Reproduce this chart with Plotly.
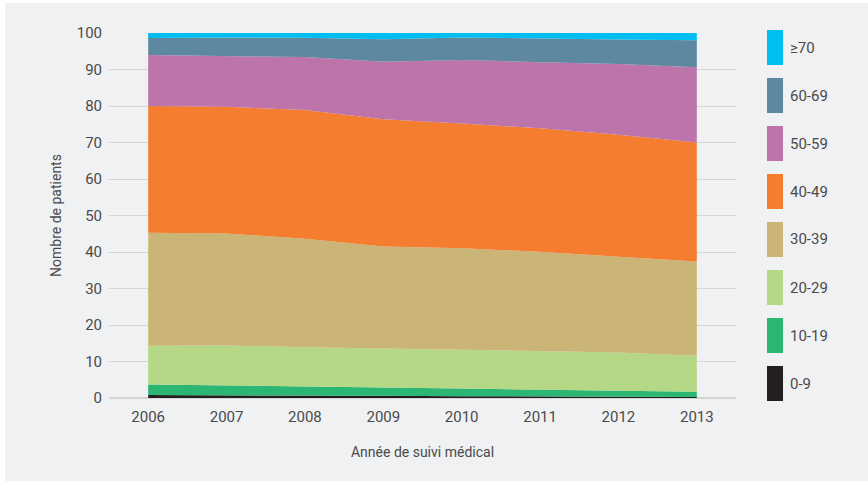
import plotly.graph_objects as go

years = ["2006", "2007", "2008", "2009", "2010", "2011", "2012", "2013"]
age_groups = ["0-9", "10-19", "20-29", "30-39", "40-49", "50-59", "60-69", "≥70"]
v_0_9 = [0.8, 0.8, 0.7, 0.6, 0.5, 0.4, 0.35, 0.3]
v_10_19 = [2.9, 2.7, 2.5, 2.3, 2.1, 1.9, 1.75, 1.4]
v_20_29 = [10.6, 10.9, 10.7, 10.6, 10.5, 10.4, 10.4, 9.9]
v_30_39 = [31.0, 30.7, 29.7, 28.0, 27.9, 27.4, 26.2, 25.8]
v_40_49 = [34.7, 34.7, 35.3, 34.9, 34.2, 33.8, 33.4, 32.6]
v_50_59 = [14.0, 13.9, 14.5, 15.7, 17.4, 18.1, 19.4, 20.6]
v_60_69 = [4.6, 5.1, 5.3, 6.2, 6.2, 6.4, 6.7, 7.4]
v_70p = [1.4, 1.2, 1.3, 1.7, 1.2, 1.6, 1.8, 2.0]
series = [v_0_9, v_10_19, v_20_29, v_30_39, v_40_49, v_50_59, v_60_69, v_70p]
colors = ["#231f20", "#2bb673", "#b4d886", "#cbb576", "#f47d30", "#bd74aa", "#5e87a0", "#00bef2"]
y_ticks = [0, 10, 20, 30, 40, 50, 60, 70, 80, 90, 100]

W, H = 868, 482
L, R, T, B = 109, 132, 33, 84
FONT = "Roboto, Open Sans, sans-serif"
TXT = "#4a4a4a"

fig = go.Figure()
for name, vals, col in zip(age_groups, series, colors):
    fig.add_trace(go.Scatter(
        x=years, y=vals, name=name, stackgroup="one", mode="lines",
        line=dict(width=0, color=col), fillcolor=col, showlegend=False,
        hoverinfo="x+y+name"))

pw, ph = W - L - R, H - T - B
def px(x):
    return (x - L) / pw
def py(y):
    return (H - B - y) / ph

shapes = [dict(type="rect", xref="paper", yref="paper", layer="below",
               x0=px(5), x1=px(W + 5), y0=py(481), y1=py(3),
               fillcolor="#f0f1f3", line=dict(width=0))]
annotations = []
for i, (name, col) in enumerate(zip(age_groups[::-1], colors[::-1])):
    top = 30 + 48 * i
    shapes.append(dict(type="rect", xref="paper", yref="paper",
                       x0=px(767), x1=px(783), y0=py(top + 35), y1=py(top),
                       fillcolor=col, line=dict(width=0)))
    annotations.append(dict(xref="paper", yref="paper", x=px(788), y=py(top + 17.5),
                            text=name, showarrow=False, xanchor="left", yanchor="middle",
                            font=dict(family=FONT, size=15, color=TXT)))

fig.update_layout(
    width=W, height=H,
    margin=dict(l=L, r=R, t=T, b=B),
    paper_bgcolor="white", plot_bgcolor="rgba(0,0,0,0)",
    font=dict(family=FONT, size=15, color=TXT),
    shapes=shapes, annotations=annotations,
    xaxis=dict(type="category", range=[-0.5, 7.5], showgrid=False, zeroline=False,
               showline=False, ticks="", tickfont=dict(size=15, color=TXT), ticklabelstandoff=8,
               title=dict(text="Année de suivi médical", font=dict(size=14, color=TXT), standoff=22)),
    yaxis=dict(range=[0, 100], tickvals=y_ticks, showgrid=True, gridcolor="#d4d5d7", gridwidth=1,
               zeroline=True, zerolinecolor="#d4d5d7", zerolinewidth=1.5, showline=False, ticks="",
               tickfont=dict(size=15, color=TXT), ticklabelstandoff=6,
               title=dict(text="Nombre de patients", font=dict(size=14, color=TXT), standoff=11)),
    showlegend=False,
)
fig.write_html("out.html", post_script="document.body.style.margin='0';",
               config={"displayModeBar": False})
